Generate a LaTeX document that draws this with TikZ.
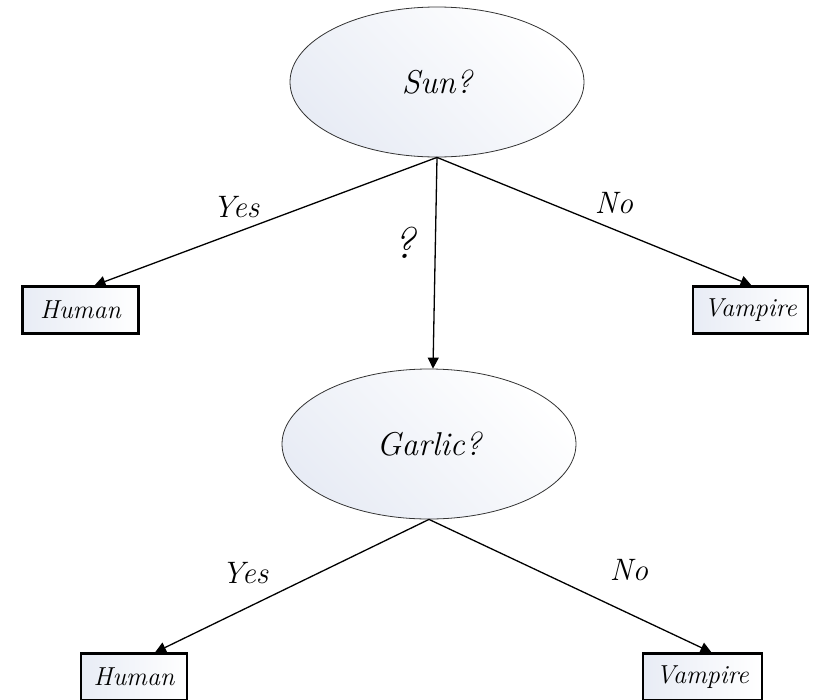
\documentclass[tikz,border=0pt]{standalone}
\usetikzlibrary{shapes.geometric,arrows.meta}
\definecolor{shadeblue}{HTML}{E8ECF5}
\begin{document}
\begin{tikzpicture}[x=1pt,y=-1pt,
  lbl/.style={font=\fontsize{31}{34}\selectfont\itshape, inner sep=0pt},
  question/.style={ellipse, draw=black!80, line width=0.8pt, minimum width=294pt, minimum height=150pt, inner sep=0pt,
     left color=shadeblue, right color=white, shading angle=135, font=\fontsize{33}{36}\selectfont\itshape},
  leaf/.style={rectangle, draw=black, line width=2.2pt, minimum height=47pt, inner sep=0pt,
     left color=shadeblue, right color=white, font=\fontsize{26}{30}\selectfont\itshape},
  conn/.style={line width=1.3pt, -{Triangle[length=11pt,width=11pt]}}]
\useasboundingbox (0,0) rectangle (813,699);
\clip (0,0) rectangle (813,699);
\node[question] (sun) at (437,82) {Sun?};
\node[question] (garlic) at (429,444) {Garlic?};
\node[leaf, minimum width=116pt] (h1) at (80.5,310) {Human};
\node[leaf, minimum width=115pt] (v1) at (750.5,310) {Vampire};
\node[leaf, minimum width=106pt] (h2) at (134,677) {Human};
\node[leaf, minimum width=119pt] (v2) at (702.5,677) {Vampire};
\draw[conn] (sun.south) -- ([xshift=14pt]h1.north);
\draw[conn] (sun.south) -- ([xshift=1pt]v1.north);
\draw[conn] (sun.south) -- ([xshift=4pt]garlic.north);
\draw[conn] (garlic.south) -- ([xshift=21pt]h2.north);
\draw[conn] (garlic.south) -- ([xshift=9pt]v2.north);
\node[lbl] (yes1) at (236,207) {Yes};
\node[lbl] (no1) at (614,203) {No};
\node[lbl, font=\fontsize{44}{48}\selectfont\itshape] (q) at (404,243) {?};
\node[lbl] (yes2) at (245,573) {Yes};
\node[lbl] (no2) at (629,570) {No};
\end{tikzpicture}
\end{document}
